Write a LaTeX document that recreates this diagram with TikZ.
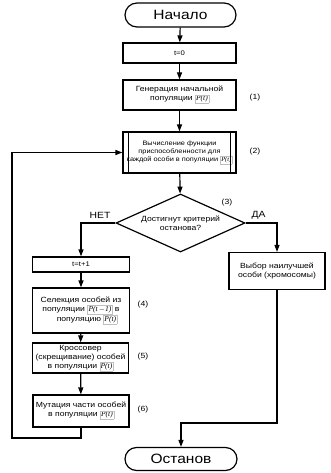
\documentclass[tikz,border=0pt]{standalone}
\usepackage{fontspec}
\setmainfont{Liberation Sans}[FakeStretch=1.15]
\newfontfamily\pserif{Liberation Serif}
\usetikzlibrary{shapes.geometric,shapes.misc,arrows.meta}
\newcommand{\pbox}[1]{{\setlength{\fboxsep}{0.8pt}\setlength{\fboxrule}{0.3pt}\fcolorbox{black!25}{white}{\pserif\itshape #1}}}
\begin{document}
\begin{tikzpicture}[x=1pt,y=1pt,
  every node/.style={font=\fontsize{7.5}{9}\selectfont},
  term/.style={draw,line width=1.2pt,rounded rectangle,minimum width=111pt,minimum height=24pt,inner sep=0pt,font=\fontsize{13.5}{15}\selectfont},
  proc/.style={draw,line width=1.2pt,rectangle,inner sep=1pt,align=center},
  lbl/.style={font=\fontsize{7.5}{8}\selectfont},
  arr/.style={line width=1.2pt,-{Triangle[length=7pt,width=5pt]}},
  ln/.style={line width=1.2pt}]
\useasboundingbox (0,0) rectangle (331,-473);
\node[term] (start) at (180.5,-15) {Начало};
\node[proc,minimum width=113pt,minimum height=20pt,font=\fontsize{6.7}{8}\selectfont] (t0) at (179.5,-53) {t=0};
\node[proc,minimum width=113pt,minimum height=30pt] (gen) at (179.5,-95) {Генерация начальной\\популяции \pbox{P(t)}};
\node[proc,minimum width=113pt,minimum height=41pt,font=\fontsize{6.4}{8.2}\selectfont] (fit) at (179.5,-152.5) {Вычисление функции\\приспособленности для\\каждой особи в популяции \pbox{P(t)}};
\draw[ln] ([xshift=6pt]fit.north west) -- ([xshift=6pt]fit.south west);
\draw[ln] ([xshift=-6pt]fit.north east) -- ([xshift=-6pt]fit.south east);
\node[draw,line width=1.2pt,diamond,aspect=2.2,minimum width=129pt,minimum height=58pt,inner sep=0pt,align=center] (dia) at (180.5,-223) {Достигнут критерий\\останова?};
\node[proc,minimum width=97pt,minimum height=15pt,font=\fontsize{6.7}{8}\selectfont] (inc) at (81,-264.5) {t=t+1};
\node[proc,minimum width=97pt,minimum height=45pt] (sel) at (81,-310.5) {Селекция особей из\\популяции \pbox{P(t\,$-$1)} в\\\hspace*{12pt}популяцию \pbox{P(t)}};
\node[proc,minimum width=96pt,minimum height=30pt] (cross) at (80.5,-358) {Кроссовер\\(скрещивание) особей\\в популяции \pbox{P(t)}};
\node[proc,minimum width=96pt,minimum height=32pt] (mut) at (81,-411) {Мутация части особей\\в популяции \pbox{P(t)}};
\node[proc,minimum width=96pt,minimum height=37pt] (best) at (277,-271) {Выбор наилучшей\\особи (хромосомы)};
\node[term,minimum width=112pt,minimum height=23pt] (stop) at (181,-459) {Останов};
\node[lbl] (l1) at (255,-98) {(1)};
\node[lbl] (l2) at (255,-152) {(2)};
\node[lbl] (l3) at (227,-203) {(3)};
\node[lbl] (l4) at (143,-305) {(4)};
\node[lbl] (l5) at (143,-357) {(5)};
\node[lbl] (l6) at (143,-410) {(6)};
\node[font=\fontsize{9}{10}\selectfont] (no) at (100,-215.5) {НЕТ};
\node[font=\fontsize{9}{10}\selectfont] (yes) at (258.5,-215.5) {ДА};
\draw[arr] (start) -- (t0);
\draw[arr] (t0) -- (gen);
\draw[arr] (gen) -- (fit);
\draw[arr] (fit) -- (dia);
\draw[arr] (dia.west) -| (inc.north);
\draw[arr] (inc) -- (sel);
\draw[arr] (sel) -- (cross);
\draw[arr] (cross) -- (mut);
\coordinate (lp) at (12,-438);
\draw[arr] (mut.south) |- (lp) |- (fit.west);
\draw[arr] (dia.east) -| (best.north);
\coordinate (rj) at (277,-423);
\draw[arr] (best.south) -- (rj) -| (stop.north);
\end{tikzpicture}
\end{document}
